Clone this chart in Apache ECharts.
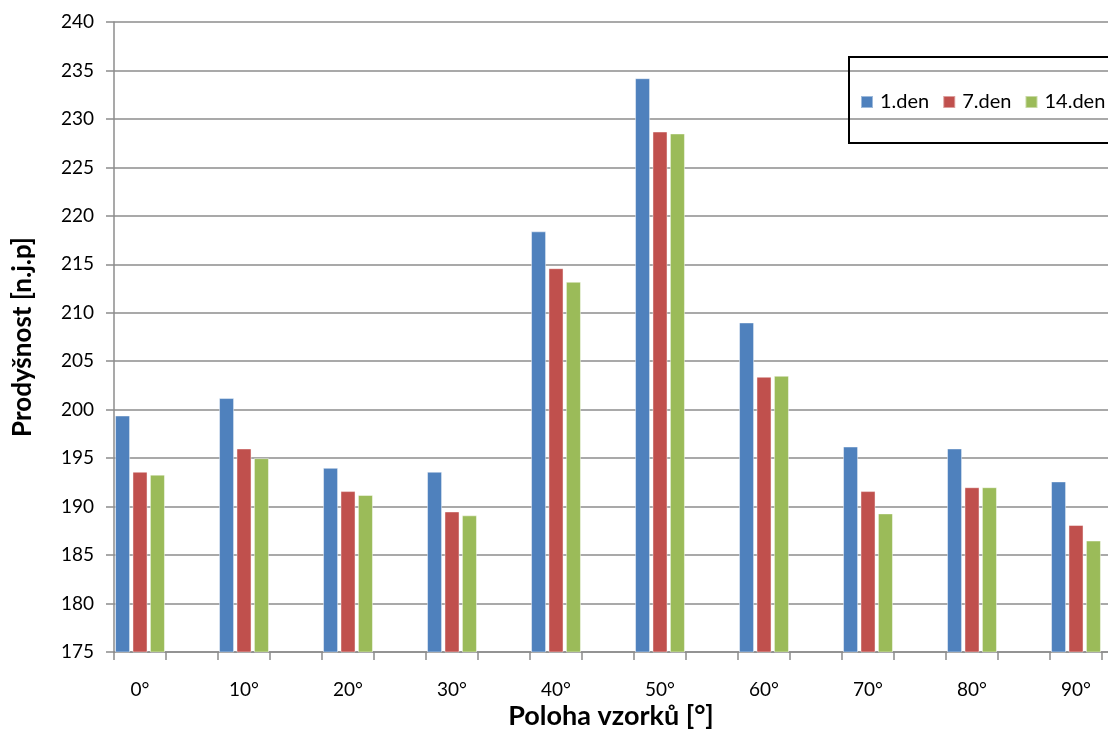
<!DOCTYPE html>
<html>
<head>
<meta charset="utf-8">
<script src="https://cdn.jsdelivr.net/npm/echarts@6/dist/echarts.min.js"></script>
<style>
  html, body { margin: 0; padding: 0; background: #fff; overflow: hidden; }
  #chart { width: 1160px; height: 729px; }
</style>
</head>
<body>
<div id="chart"></div>
<script>
// Sample positions and measured air permeability per day of testing
const positions = ['0°', '10°', '20°', '30°', '40°', '50°', '60°', '70°', '80°', '90°'];
const seriesNames = ['1.den', '7.den', '14.den'];
const day1  = [199.4, 201.2, 194.0, 193.6, 218.4, 234.2, 209.0, 196.2, 196.0, 192.6];
const day7  = [193.6, 196.0, 191.6, 189.5, 214.6, 228.7, 203.4, 191.6, 192.0, 188.1];
const day14 = [193.3, 195.0, 191.2, 189.1, 213.2, 228.5, 203.5, 189.3, 192.0, 186.5];
const colors = ['#4F81BD', '#C0504D', '#9BBB59'];

// Each position is followed by an empty slot, so the bar cluster sits in the
// left half of its span and axis ticks fall at every half-span.
const axisCats = [];
positions.forEach(p => { axisCats.push(p); axisCats.push(''); });
const spread = arr => {
  const out = [];
  arr.forEach(v => { out.push(v); out.push(null); });
  return out;
};

const font = 'Lato, "Open Sans", sans-serif';
const grey = '#8c8c8c';

const chart = echarts.init(document.getElementById('chart'), null, { renderer: 'canvas' });
chart.setOption({
  animation: false,
  textStyle: { fontFamily: font },
  grid: { left: 114, top: 22, width: 1040, height: 630, containLabel: false },
  legend: {
    left: 855, top: 87,
    itemWidth: 12, itemHeight: 12, itemGap: 13,
    icon: 'rect',
    textStyle: { fontSize: 20, color: '#000', fontFamily: font, padding: [0, 0, 0, 2] },
    data: seriesNames
  },
  graphic: [
    {
      type: 'rect', z: 5,
      shape: { x: 849, y: 57, width: 300, height: 86 },
      style: { fill: 'none', stroke: '#000', lineWidth: 2 }
    },
    {
      type: 'text', z: 10,
      x: 611, y: 716,
      style: {
        text: 'Poloha vzorků [°]', font: 'bold 27px ' + font, fill: '#000',
        align: 'center', verticalAlign: 'middle'
      }
    }
  ],
  xAxis: {
    type: 'category',
    data: axisCats,
    boundaryGap: true,
    axisLine: { lineStyle: { color: grey, width: 1.5 } },
    axisTick: { show: true, interval: 0, length: 8, lineStyle: { color: grey, width: 1.5 } },
    axisLabel: { interval: 0, margin: 28, fontSize: 19, color: '#000', fontFamily: font },
    splitLine: { show: false }
  },
  yAxis: {
    type: 'value',
    min: 175, max: 240, interval: 5,
    name: 'Prodyšnost [n.j.p]',
    nameLocation: 'middle',
    nameGap: 78,
    nameTextStyle: { fontSize: 26, fontWeight: 'bold', color: '#000', fontFamily: font },
    axisLine: { show: true, lineStyle: { color: grey, width: 1.5 } },
    axisTick: { show: true, length: 8, lineStyle: { color: grey, width: 1.5 } },
    axisLabel: { margin: 20, fontSize: 19, color: '#000', fontFamily: font },
    splitLine: { lineStyle: { color: grey, width: 1.5 } }
  },
  series: [day1, day7, day14].map((vals, i) => ({
    name: seriesNames[i],
    type: 'bar',
    data: spread(vals),
    barCategoryGap: '4%',
    barGap: '16%',
    itemStyle: { color: colors[i], borderColor: 'rgba(255,255,255,0.45)', borderWidth: 1 },
    z: 2
  })),
  color: colors
});
</script>
</body>
</html>
